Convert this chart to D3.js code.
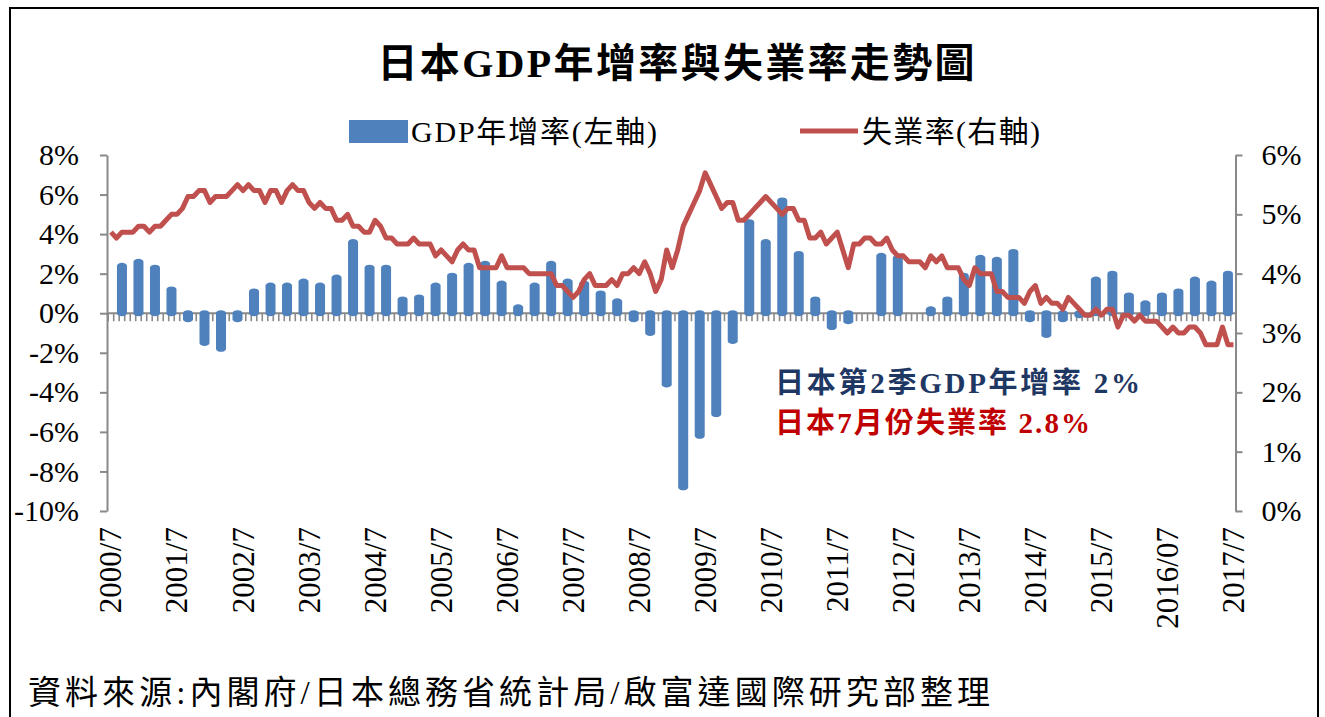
<!DOCTYPE html>
<html><head><meta charset="utf-8">
<script src="https://cdn.jsdelivr.net/npm/d3@7"></script>
<style>body{margin:0;background:#fff}svg{display:block}</style>
</head><body>
<script>
// ---- data ----
const startYear = 2000, startMonth = 7, monthCount = 205; // 2000/7 .. 2017/7
const xTickLabels = ["2000/7","2001/7","2002/7","2003/7","2004/7","2005/7","2006/7","2007/7","2008/7",
  "2009/7","2010/7","2011/7","2012/7","2013/7","2014/7","2015/7","2016/07","2017/7"];
// quarterly GDP YoY growth (%), 2000Q3 .. 2017Q2 (null = no visible bar)
const gdpGrowth = [2.4,2.6,2.3,1.2,-0.3,-1.5,-1.8,-0.3,1.1,1.4,1.4,1.6,1.4,1.8,3.6,2.3,2.3,0.7,0.8,1.4,
  1.9,2.4,2.5,1.5,0.3,1.4,2.5,1.6,1.5,1.0,0.6,-0.3,-1.0,-3.6,-8.8,-6.2,-5.1,-1.4,4.6,3.6,
  5.7,3.0,0.7,-0.7,-0.4,null,2.9,2.8,null,0.2,0.7,1.9,2.8,2.7,3.1,-0.3,-1.1,-0.3,-0.1,1.7,
  2.0,0.9,0.5,0.9,1.1,1.7,1.5,2.0];
// monthly unemployment rate (%), 2000/7 .. 2017/7
const unemployment = [
  4.7,4.6,4.7,4.7,4.7,4.8,
  4.8,4.7,4.8,4.8,4.9,5.0,5.0,5.1,5.3,5.3,5.4,5.4,
  5.2,5.3,5.3,5.3,5.4,5.5,5.4,5.5,5.4,5.4,5.2,5.4,
  5.4,5.2,5.4,5.5,5.4,5.4,5.2,5.1,5.2,5.1,5.1,4.9,
  4.9,5.0,4.8,4.8,4.7,4.7,4.9,4.8,4.6,4.6,4.5,4.5,
  4.5,4.6,4.5,4.5,4.5,4.3,4.4,4.3,4.2,4.4,4.5,4.4,
  4.4,4.1,4.1,4.1,4.1,4.3,4.1,4.1,4.1,4.1,4.0,4.0,
  4.0,4.0,4.0,3.8,3.8,3.7,3.6,3.7,3.9,4.0,3.8,3.8,
  3.8,3.9,3.8,4.0,4.0,4.1,4.0,4.2,4.0,3.7,3.9,4.4,
  4.1,4.4,4.8,5.0,5.2,5.4,5.7,5.5,5.3,5.1,5.2,5.2,
  4.9,4.9,5.0,5.1,5.2,5.3,5.2,5.1,5.0,5.1,5.1,4.9,
  4.9,4.6,4.6,4.7,4.5,4.6,4.7,4.4,4.1,4.5,4.5,4.6,
  4.6,4.5,4.5,4.6,4.4,4.3,4.3,4.2,4.2,4.2,4.1,4.3,
  4.2,4.3,4.1,4.1,4.1,3.9,3.8,4.1,4.0,4.0,4.0,3.7,
  3.7,3.6,3.6,3.6,3.5,3.7,3.8,3.5,3.6,3.5,3.5,3.4,
  3.6,3.5,3.4,3.3,3.3,3.4,3.3,3.4,3.4,3.1,3.3,3.3,
  3.2,3.3,3.2,3.2,3.2,3.1,3.0,3.1,3.0,3.0,3.1,3.1,
  3.0,2.8,2.8,2.8,3.1,2.8,2.8];
const leftTicks = [-10,-8,-6,-4,-2,0,2,4,6,8];
const rightTicks = [0,1,2,3,4,5,6];
const titleText = "日本GDP年增率與失業率走勢圖";
const legendGdp = "GDP年增率(左軸)";
const legendUnemp = "失業率(右軸)";
const note1 = "日本第2季GDP年增率  2%";
const note2 = "日本7月份失業率 2.8%";
const sourceText = "資料來源:內閣府/日本總務省統計局/啟富達國際研究部整理";

// ---- build ----
const months = d3.range(monthCount).map(i => {
  const m = startMonth - 1 + i;
  return (startYear + Math.floor(m / 12)) + "/" + (m % 12 + 1);
});
const W = 1325, H = 717;
const serif = "'Liberation Serif','Times New Roman','Noto Sans CJK TC',serif";
const BLUE = "#4F81BD", RED = "#C0504D", GRAY = "#898989";

const svg = d3.select("body").append("svg").attr("width", W).attr("height", H);
svg.append("rect").attr("x", 10).attr("y", 8).attr("width", 1308).attr("height", 730)
  .attr("fill", "#fff").attr("stroke", "#000").attr("stroke-width", 2);

const plotL = 107, plotR = 1235.5, plotT = 155, plotB = 511;
const x = d3.scaleBand().domain(d3.range(monthCount)).range([108.2, 1236.2]).padding(0);
const cx = i => x(i) + x.bandwidth() / 2;
const yL = d3.scaleLinear().domain([-10, 8]).range([plotB, plotT]);
const yR = d3.scaleLinear().domain([0, 6]).range([plotB, plotT]);

// title
svg.append("text").attr("x", 676).attr("y", 63).attr("text-anchor", "middle")
  .attr("dominant-baseline", "central").attr("font-family", serif).attr("font-weight", "bold")
  .attr("font-size", 40).attr("textLength", 597).attr("lengthAdjust", "spacing").text(titleText);

// legend
svg.append("rect").attr("x", 349).attr("y", 120).attr("width", 59).attr("height", 23).attr("fill", BLUE);
svg.append("text").attr("x", 411).attr("y", 131).attr("dominant-baseline", "central")
  .attr("font-family", serif).attr("font-size", 30).attr("textLength", 246).attr("lengthAdjust", "spacing").text(legendGdp);
svg.append("line").attr("x1", 800).attr("x2", 858).attr("y1", 131).attr("y2", 131)
  .attr("stroke", RED).attr("stroke-width", 5);
svg.append("text").attr("x", 862).attr("y", 131).attr("dominant-baseline", "central")
  .attr("font-family", serif).attr("font-size", 30).attr("textLength", 178).attr("lengthAdjust", "spacing").text(legendUnemp);

// axes
function styleAxis(g) {
  g.selectAll("path.domain").attr("stroke", GRAY).attr("stroke-width", 2);
  g.selectAll(".tick line").attr("stroke", GRAY).attr("stroke-width", 2);
  g.selectAll(".tick text").attr("fill", "#000").attr("font-family", serif).attr("font-size", 30);
}
svg.append("g").attr("transform", `translate(${plotL},0)`)
  .call(d3.axisLeft(yL).tickValues(leftTicks).tickFormat(d => d + "%").tickSize(7).tickSizeOuter(0).tickPadding(21))
  .call(styleAxis);
svg.append("g").attr("transform", `translate(${plotR},0)`)
  .call(d3.axisRight(yR).tickValues(rightTicks).tickFormat(d => d + "%").tickSize(7).tickSizeOuter(0).tickPadding(19))
  .call(styleAxis);

// zero line with monthly ticks
const y0 = yL(0);
svg.append("line").attr("x1", plotL).attr("x2", plotR).attr("y1", y0).attr("y2", y0)
  .attr("stroke", GRAY).attr("stroke-width", 2);
svg.append("g").selectAll("line").data(d3.range(monthCount + 1)).join("line")
  .attr("x1", i => i < monthCount ? x(i) : x(monthCount - 1) + x.bandwidth())
  .attr("x2", i => i < monthCount ? x(i) : x(monthCount - 1) + x.bandwidth())
  .attr("y1", y0).attr("y2", y0 + 8).attr("stroke", GRAY).attr("stroke-width", 1.6);

// bars (quarter-end month)
const barData = gdpGrowth.map((v, q) => ({ v, i: 3 * q + 2 })).filter(d => d.v !== null);
svg.append("g").selectAll("rect").data(barData).join("rect")
  .attr("x", d => cx(d.i) - 5).attr("width", 10)
  .attr("y", d => Math.min(yL(d.v), y0) - 3)
  .attr("height", d => Math.abs(yL(d.v) - y0) + 6)
  .attr("rx", 5).attr("ry", 3).attr("fill", BLUE);

// unemployment line
const line = d3.line().x((d, i) => cx(i)).y(d => yR(d));
svg.append("path").datum(unemployment).attr("d", line).attr("fill", "none")
  .attr("stroke", RED).attr("stroke-width", 5).attr("stroke-linejoin", "round");

// x labels
svg.append("g").selectAll("text").data(xTickLabels).join("text")
  .attr("transform", (d, k) => `translate(${cx(k * 12)},527) rotate(-90)`)
  .attr("text-anchor", "end").attr("dominant-baseline", "central")
  .attr("font-family", serif).attr("font-size", 31).text(d => d);

// annotations
svg.append("text").attr("x", 775).attr("y", 383).attr("dominant-baseline", "central")
  .attr("font-family", serif).attr("font-weight", "bold").attr("font-size", 29).attr("fill", "#1F3763")
  .attr("textLength", 365).attr("lengthAdjust", "spacing").text(note1);
svg.append("text").attr("x", 775).attr("y", 423).attr("dominant-baseline", "central")
  .attr("font-family", serif).attr("font-weight", "bold").attr("font-size", 29).attr("fill", "#C00000")
  .attr("textLength", 315).attr("lengthAdjust", "spacing").text(note2);

// source
svg.append("text").attr("x", 28).attr("y", 693).attr("dominant-baseline", "central")
  .attr("font-family", serif).attr("font-size", 33).attr("textLength", 962).attr("lengthAdjust", "spacing").text(sourceText);
</script>
</body></html>
